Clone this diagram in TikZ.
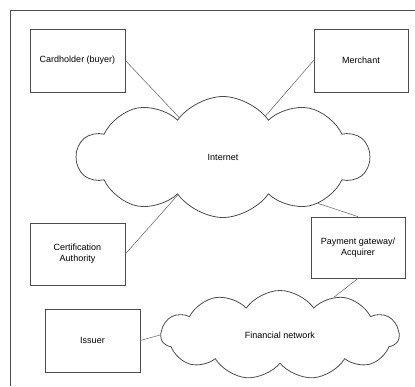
\documentclass[tikz,border=0pt]{standalone}
\usepackage{fontspec}
\setmainfont{Liberation Sans}
\usetikzlibrary{
    shapes.symbols,
    positioning
}
\tikzset{
    % Colors
    line color/.style={black!70},
    link color/.style={black!55},
    %
    % Nodes
    party/.style={draw,line color,thick,rectangle,minimum width=95pt,minimum height=63pt,
        text=black,align=center},
    network/.style={draw,line color,thick,cloud,cloud puffs=#1,cloud puff arc=110,
        cloud ignores aspect,text=black,inner sep=0pt},
    network/.default=10,
    %
    % Connectors
    link/.style={link color,semithick},
    frame/.style={line color,semithick}
}
\tikzstyle{every node}=[font=\fontsize{9}{11}\selectfont]

\begin{document}
\begin{tikzpicture}[x=1pt,y=-1pt]
        \useasboundingbox (0,0) rectangle (415,386);
        \draw[frame] (415,10) -- (10,10) -- (10,386);

        % clouds
        \node[network=10,minimum width=292pt,minimum height=121pt] (inet) at (223,157) {Internet};
        \node[network=11,minimum width=238pt,minimum height=89pt] (fin) at (280,335) {Financial network};

        % parties
        \node[party] (buyer) at (77.5,60.5) {Cardholder (buyer)};
        \node[party,minimum width=94pt] (merchant) at (361,60.5) {Merchant};
        \node[party,minimum height=62pt] (ca) at (77.5,254) {Certification\\Authority};
        \node[party,minimum width=94pt,minimum height=61pt] (gate) at (358,247.5) {Payment gateway/\\Acquirer};
        \node[party] (issuer) at (92.5,340.5) {Issuer};

        \draw[link] (buyer.east) -- (inet.138);
        \draw[link] (merchant.west) -- (inet.44);
        \draw[link] (ca.east) -- (inet.220);
        \draw[link] (inet.334) -- (gate.north);
        \draw[link] (gate.south) -- (fin.35);
        \draw[link] (issuer.east) -- (fin.west);
    \end{tikzpicture}
\end{document}
